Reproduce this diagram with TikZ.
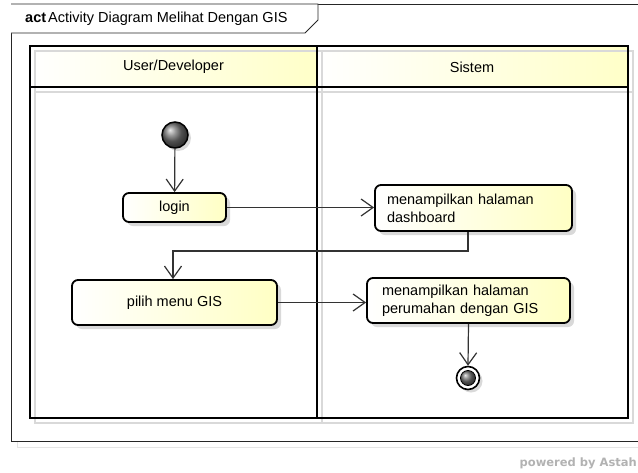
\documentclass[tikz,border=0pt]{standalone}
\usepackage{fontspec}
\setmainfont{Liberation Sans}
\newfontfamily\astahfont{DejaVu Sans}
\usetikzlibrary{arrows.meta,shadows,calc}
\definecolor{nodeY}{RGB}{255,255,196}
\definecolor{headY}{RGB}{255,255,200}
\pgfdeclarelayer{bg}
\pgfsetlayers{bg,main}
\begin{document}
\begin{tikzpicture}[x=1pt,y=-1pt,
  every node/.style={font=\fontsize{14.5}{18}\selectfont},
  actbox/.style={draw=black, line width=1.8pt, rounded corners=6pt,
    left color=white, right color=nodeY,
    drop shadow={shadow xshift=4pt, shadow yshift=-4pt, fill=black!15, opacity=1},
    inner xsep=12pt, inner ysep=3pt},
  conn/.style={draw=black!80, line width=1.2pt,
    -{Straight Barb[length=12pt,width=17pt,line width=1.2pt]}},
  connshadow/.style={draw=black!13, line width=1.2pt,
    -{Straight Barb[length=12pt,width=17pt,line width=1.2pt]},
    transform canvas={xshift=4pt,yshift=-4pt}},
  lane/.style={draw=black, line width=2pt},
  laneshadow/.style={draw=black!15, line width=2pt},
  startnode/.style={circle, draw=black, line width=1.5pt, ball color=black!55,
    minimum size=26pt, inner sep=0pt,
    drop shadow={shadow xshift=3pt, shadow yshift=-3pt, fill=black!15, opacity=1}},
]
\useasboundingbox (0,0) rectangle (638,472);
\clip (0,0) rectangle (638,472);

% frame shadow and frame
\draw[black!10, line width=1pt] (17,10) rectangle (651,447);
\draw[black!85, line width=0.9pt, fill=white] (11,4) rectangle (645,441);

% lane headers
\shade[left color=white, right color=headY] (30,46) rectangle (317,87);
\shade[left color=white, right color=headY] (317,46) rectangle (628,87);
% lane shadows
\draw[laneshadow] (35,51) rectangle (633,423);
\draw[laneshadow] (35,92) -- (633,92);
\draw[laneshadow] (322,51) -- (322,423);
% lanes
\draw[lane] (30,46) rectangle (628,418);
\draw[lane] (30,87) -- (628,87);
\draw[lane] (317,46) -- (317,418);

\node (h1) at (173.5,67) {User/Developer};
\node (h2) at (472,67) {Sistem};

% title tab
\draw[black!85, line width=0.9pt, fill=white] (11,4) -- (318,4) -- (318,20) -- (305,33) -- (11,33);
\node[anchor=west, inner sep=0pt] (title) at (25,19) {\textbf{act}\hspace{2pt}Activity Diagram Melihat Dengan GIS};

% nodes
\node[startnode] (init) at (175,135) {};
\node[actbox, minimum width=103pt, minimum height=29pt] (login) at (174.5,207.5) {login};
\node[actbox, minimum height=46pt, text width=173pt, align=left] (dash) at (473.5,208) {menampilkan halaman\\dashboard};
\node[actbox, minimum width=205pt, minimum height=45pt] (pilih) at (174.5,302.5) {pilih menu GIS};
\node[actbox, inner xsep=15pt, minimum height=45pt, text width=173pt, align=left] (gis) at (468.5,300.5) {menampilkan halaman\\perumahan dengan GIS};
\node[circle, draw=black, line width=1.6pt, fill=white, minimum size=23pt, inner sep=0pt,
  drop shadow={shadow xshift=3pt, shadow yshift=-3pt, fill=black!15, opacity=1}] (final) at (468,378) {};
\node[circle, draw=black, line width=0.8pt, ball color=black!55, minimum size=15pt, inner sep=0pt] (finalin) at (final) {};

% connector points
\coordinate (turn) at (0,251);
\coordinate (dout) at ([xshift=-5.5pt]dash.south);
\coordinate (pin) at ([xshift=-1.5pt]pilih.north);

% connector shadows
\begin{pgfonlayer}{bg}
\draw[connshadow] (init) -- (login);
\draw[connshadow] (login.east) -- (login.east -| dash.west);
\draw[connshadow] (dout) |- (turn -| pin) -- (pin);
\draw[connshadow] (pilih.east) -- (pilih.east -| gis.west);
\draw[connshadow] (gis.south) -- (final.north);
\end{pgfonlayer}

% connectors
\draw[conn] (init) -- (login);
\draw[conn] (login.east) -- (login.east -| dash.west);
\draw[conn] (dout) |- (turn -| pin) -- (pin);
\draw[conn] (pilih.east) -- (pilih.east -| gis.west);
\draw[conn] (gis.south) -- (final.north);

\node[anchor=east, inner sep=0pt, text=black!30, font=\astahfont\bfseries\fontsize{11.5}{14}\selectfont] (pw) at (637,463) {powered by Astah};
\end{tikzpicture}
\end{document}
